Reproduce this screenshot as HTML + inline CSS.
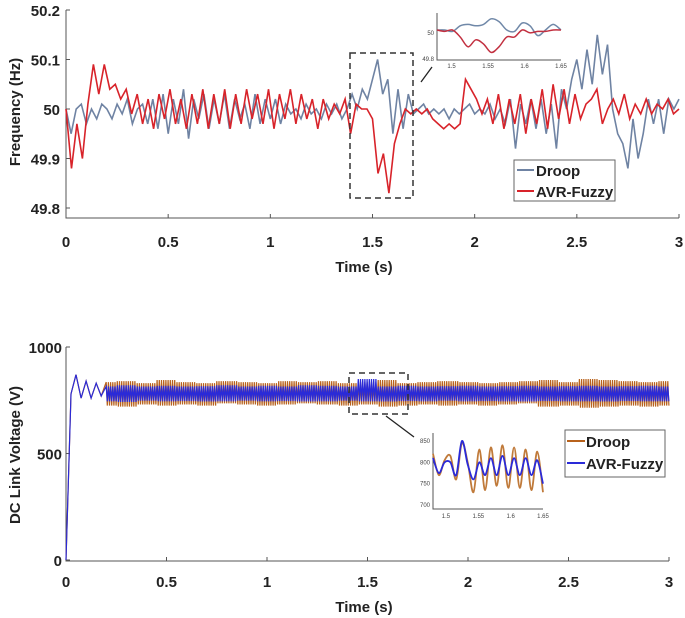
<!DOCTYPE html>
<html><head><meta charset="utf-8"><style>
html,body{margin:0;padding:0;background:#fff;}
svg{display:block;font-family:"Liberation Sans",sans-serif;}
.tk{font-size:15px;font-weight:bold;fill:#222;}
.ax{stroke:#555;stroke-width:1;fill:none;}
.st{font-size:6px;fill:#444;}
</style></head><body>
<svg id="c" width="685" height="618" viewBox="0 0 685 618"></svg>
<script>
// ---- Frequency chart data ----
const freqXTicks=[0,0.5,1,1.5,2,2.5,3];
const freqXLabels=["0","0.5","1","1.5","2","2.5","3"];
const freqYTicks=[49.8,49.9,50,50.1,50.2];
const freqYLabels=["49.8","49.9","50","50.1","50.2"];
const freqDroop=[50.0,49.95,50.0,50.01,49.97,50.0,49.98,50.01,50.0,49.98,50.01,49.99,50.02,49.97,50.0,50.01,49.97,50.02,49.96,50.03,49.95,50.02,49.97,50.04,49.94,50.02,49.98,50.03,49.96,50.02,49.97,50.03,49.96,50.02,49.98,50.01,49.96,50.03,49.97,50.02,49.98,50.02,49.97,50.01,49.99,50.0,49.98,50.01,49.99,50.0,49.98,50.01,49.99,50.01,49.98,50.0,50.03,50.0,50.04,50.02,50.06,50.1,50.03,50.06,49.95,50.04,49.96,50.03,49.99,50.0,50.01,49.99,50.0,49.99,50.0,49.98,50.0,49.99,50.0,50.01,49.99,50.0,49.99,50.01,49.98,50.0,49.97,50.02,49.92,50.01,49.97,50.02,49.96,50.02,49.95,50.01,49.92,50.04,50.0,50.06,50.1,50.04,50.12,50.05,50.15,50.07,50.13,50.0,49.95,49.93,49.88,49.98,49.9,49.95,50.02,49.97,50.02,49.95,50.02,50.0,50.02];
const freqFuzzy=[50.0,49.88,49.97,49.9,50.01,50.09,50.03,50.09,50.04,50.05,50.02,50.04,49.99,50.03,49.97,50.02,49.96,50.03,49.98,50.04,49.97,50.02,49.96,50.03,49.97,50.04,49.96,50.03,49.97,50.04,49.96,50.03,49.97,50.04,49.98,50.03,49.97,50.04,49.96,50.03,49.98,50.04,49.97,50.03,49.98,50.02,49.96,50.02,49.98,50.01,49.99,50.02,49.95,50.01,50.0,50.0,49.98,49.87,49.91,49.83,49.93,49.97,50.0,49.99,50.0,49.99,50.0,49.98,49.97,49.96,49.97,49.96,49.97,50.06,50.04,50.02,49.99,50.02,49.97,50.03,49.96,50.02,49.97,50.03,49.95,50.02,49.97,50.04,49.96,50.05,49.98,50.04,49.97,50.03,49.98,50.01,50.02,50.04,49.97,50.0,50.02,49.99,50.03,49.98,50.01,49.99,50.02,49.99,50.01,50.0,50.02,49.99,50.0];
// frequency inset (1.48..1.65)
const finsDroop=[50.0,50.0,49.99,50.03,50.04,50.03,50.04,50.08,50.06,50.0,49.99,50.05,50.03,49.96,50.0,50.04,50.0];
const finsFuzzy=[50.0,49.99,50.0,49.95,49.88,49.93,49.9,49.84,49.88,49.95,49.95,50.0,49.98,49.99,49.99,50.0,50.0];
// ---- DC voltage chart data ----
const vXTicks=[0,0.5,1,1.5,2,2.5,3];
const vYTicks=[0,500,1000];
const vYLabels=["0","500","1000"];
const vStart=[0,780,870,760,840,760,830,770];         // 0..0.175 s, step 0.025
const vDroopHi=[835,840,830,845,835,830,840,835,830,840,835,840,830,835,845,830,835,840,835,830,835,840,845,835,850,845,840,835,840];
const vDroopLo=[725,720,730,725,730,725,735,730,725,730,735,730,725,730,720,725,730,725,730,725,730,735,720,725,715,720,725,720,725];
const vFuzzyHi=[815,820,815,818,815,816,820,815,818,815,820,818,815,850,815,818,815,816,818,815,816,818,815,816,818,815,816,818,815];
const vFuzzyLo=[745,742,748,745,746,744,745,748,745,746,744,745,748,745,744,746,745,748,745,746,745,744,746,745,745,744,746,745,745];
// voltage inset (1.48..1.65)
const vinsDroop=[820,770,805,815,760,845,800,730,830,735,835,745,840,740,835,740,830,735,825,730];
const vinsFuzzy=[810,775,800,800,770,850,795,760,800,770,810,770,815,770,810,770,810,770,805,750];

const NS="http://www.w3.org/2000/svg";
const svg=document.getElementById('c');
function el(tag,attrs,parent){const e=document.createElementNS(NS,tag);for(const k in attrs)e.setAttribute(k,attrs[k]);(parent||svg).appendChild(e);return e;}
function txt(s,attrs,parent){const e=el('text',attrs,parent);e.textContent=s;return e;}
function lin(d0,d1,r0,r1){return v=>r0+(v-d0)/(d1-d0)*(r1-r0);}
function pathFrom(xs,ys,X,Y){return xs.map((x,i)=>(i?'L':'M')+X(x).toFixed(1)+' '+Y(ys[i]).toFixed(1)).join(' ');}
function smoothFrom(xs,ys,X,Y){
 const P=xs.map((x,i)=>[X(x),Y(ys[i])]);let d='M'+P[0][0].toFixed(1)+' '+P[0][1].toFixed(1);
 for(let i=0;i<P.length-1;i++){const p0=P[Math.max(0,i-1)],p1=P[i],p2=P[i+1],p3=P[Math.min(P.length-1,i+2)];
  const c1=[p1[0]+(p2[0]-p0[0])/6,p1[1]+(p2[1]-p0[1])/6],c2=[p2[0]-(p3[0]-p1[0])/6,p2[1]-(p3[1]-p1[1])/6];
  d+=' C'+c1.map(v=>v.toFixed(1)).join(' ')+' '+c2.map(v=>v.toFixed(1)).join(' ')+' '+p2.map(v=>v.toFixed(1)).join(' ');}
 return d;}
function times(n,t0,t1){const a=[];for(let i=0;i<n;i++)a.push(t0+(t1-t0)*i/(n-1));return a;}

// ===== Top chart =====
const fX=lin(0,3,66,679), fY=lin(49.8,50.2,208,10);
let g=el('g',{});


el('path',{class:'ax',d:'M66 10 L66 218 L679 218'},g);
freqXTicks.forEach((t,i)=>{el('line',{x1:fX(t),x2:fX(t),y1:218,y2:214,stroke:'#555'},g);
 const l=txt(freqXLabels[i],{x:fX(t),y:247,class:'tk','text-anchor':'middle'},g);
 });
freqYTicks.forEach((v,i)=>{el('line',{x1:66,x2:70,y1:fY(v),y2:fY(v),stroke:'#555'},g);
 const l=txt(freqYLabels[i],{x:60,y:fY(v)+6,class:'tk','text-anchor':'end'},g);
 });
let t=txt('Time (s)',{x:364,y:272,class:'tk','text-anchor':'middle','font-size':'16'},g);

t=txt('Frequency (Hz)',{x:0,y:0,class:'tk','text-anchor':'middle',transform:'translate(20,112) rotate(-90)','font-size':'18'},g);

let p=el('path',{d:pathFrom(times(freqDroop.length,0,3),freqDroop,fX,fY),fill:'none',stroke:'#6f83a3','stroke-width':1.6},g);

p=el('path',{d:pathFrom(times(freqFuzzy.length,0,3),freqFuzzy,fX,fY),fill:'none',stroke:'#d8232a','stroke-width':1.6},g);

let b=el('rect',{x:350,y:53,width:63,height:145,fill:'none',stroke:'#333','stroke-width':1.5,'stroke-dasharray':'6 4'},g);

el('line',{x1:421,y1:82,x2:432,y2:67,stroke:'#222','stroke-width':1.3},g);
const iX=lin(1.48,1.65,437,561), iY=lin(49.8,50.1,58,16);
let ig=el('g',{},g);
el('rect',{x:437,y:13,width:124,height:47,fill:'#fff'},ig);
el('path',{class:'ax',d:'M437 13 L437 60 L561 60','stroke':'#888'},ig);
[1.5,1.55,1.6,1.65].forEach(v=>txt(String(v),{x:iX(v),y:68,class:'st','text-anchor':'middle'},ig));
txt('50',{x:434,y:35,class:'st','text-anchor':'end'},ig);txt('49.8',{x:434,y:61,class:'st','text-anchor':'end'},ig);
el('path',{d:smoothFrom(times(finsDroop.length,1.48,1.65),finsDroop,iX,iY),fill:'none',stroke:'#7088a8','stroke-width':1.5},ig);
el('path',{d:smoothFrom(times(finsFuzzy.length,1.48,1.65),finsFuzzy,iX,iY),fill:'none',stroke:'#c23040','stroke-width':1.5},ig);
let lg=el('g',{},g);
el('rect',{x:514,y:160,width:101,height:41,fill:'#fff',stroke:'#666'},lg);
el('line',{x1:517,x2:534,y1:170,y2:170,stroke:'#6f83a3','stroke-width':2},lg);
txt('Droop',{x:536,y:176,class:'tk','font-size':'13'},lg);
el('line',{x1:517,x2:534,y1:191,y2:191,stroke:'#d8232a','stroke-width':2},lg);
txt('AVR-Fuzzy',{x:536,y:197,class:'tk','font-size':'13'},lg);

// ===== Bottom chart =====
const vX=lin(0,3,66,669), vY=lin(0,1000,560,347);
g=el('g',{});


el('path',{class:'ax',d:'M66 347 L66 561 L669 561'},g);
vXTicks.forEach((tv,i)=>{el('line',{x1:vX(tv),x2:vX(tv),y1:561,y2:557,stroke:'#555'},g);
 const l=txt(freqXLabels[i],{x:vX(tv),y:587,class:'tk','text-anchor':'middle'},g);
 });
vYTicks.forEach((v,i)=>{el('line',{x1:66,x2:70,y1:vY(v),y2:vY(v),stroke:'#555'},g);
 const l=txt(vYLabels[i],{x:62,y:vY(v)+6,class:'tk','text-anchor':'end'},g);
 });
t=txt('Time (s)',{x:364,y:612,class:'tk','text-anchor':'middle','font-size':'16'},g);

t=txt('DC Link Voltage (V)',{x:0,y:0,class:'tk','text-anchor':'middle',transform:'translate(20,455) rotate(-90)','font-size':'18'},g);

function voltSeries(hi,lo){
 const xs=[],ys=[];
 vStart.forEach((v,i)=>{xs.push(i*0.025);ys.push(v);});
 const t0=0.2,t1=3,n=hi.length;
 for(let k=0;;k++){const tt=t0+k*0.0055;if(tt>t1)break;
  const f=(tt-t0)/(t1-t0)*(n-1),j=Math.min(n-1,Math.round(f));
  xs.push(tt);ys.push(k%2?lo[j]:hi[j]);}
 return [xs,ys];}
let [dx,dy]=voltSeries(vDroopHi,vDroopLo);
p=el('path',{d:pathFrom(dx,dy,vX,vY),fill:'none',stroke:'#b8621c','stroke-width':1.2},g);

[dx,dy]=voltSeries(vFuzzyHi,vFuzzyLo);
p=el('path',{d:pathFrom(dx,dy,vX,vY),fill:'none',stroke:'#2a2ad8','stroke-width':1.2},g);

b=el('rect',{x:349,y:373,width:59,height:41,fill:'none',stroke:'#333','stroke-width':1.5,'stroke-dasharray':'6 4'},g);

el('line',{x1:386,y1:416,x2:414,y2:437,stroke:'#222','stroke-width':1.3},g);
const jX=lin(1.48,1.65,433,543), jY=lin(700,850,505,441);
ig=el('g',{},g);
el('rect',{x:433,y:433,width:110,height:76,fill:'#fff'},ig);
el('path',{class:'ax',d:'M433 433 L433 509 L543 509','stroke':'#888'},ig);
[1.5,1.55,1.6,1.65].forEach(v=>txt(String(v),{x:jX(v),y:518,class:'st','text-anchor':'middle'},ig));
[700,750,800,850].forEach(v=>txt(String(v),{x:430,y:jY(v)+2,class:'st','text-anchor':'end'},ig));
el('path',{d:smoothFrom(times(vinsDroop.length,1.48,1.65),vinsDroop,jX,jY),fill:'none',stroke:'#c07a3a','stroke-width':1.8},ig);
el('path',{d:smoothFrom(times(vinsFuzzy.length,1.48,1.65),vinsFuzzy,jX,jY),fill:'none',stroke:'#2a2ad8','stroke-width':1.8},ig);
lg=el('g',{},g);
el('rect',{x:565,y:430,width:100,height:47,fill:'#fff',stroke:'#666'},lg);
el('line',{x1:567,x2:585,y1:441,y2:441,stroke:'#b8621c','stroke-width':2},lg);
txt('Droop',{x:586,y:447,class:'tk','font-size':'14'},lg);
el('line',{x1:567,x2:585,y1:463,y2:463,stroke:'#2a2ad8','stroke-width':2},lg);
txt('AVR-Fuzzy',{x:586,y:469,class:'tk','font-size':'14'},lg);
</script>
</body></html>
